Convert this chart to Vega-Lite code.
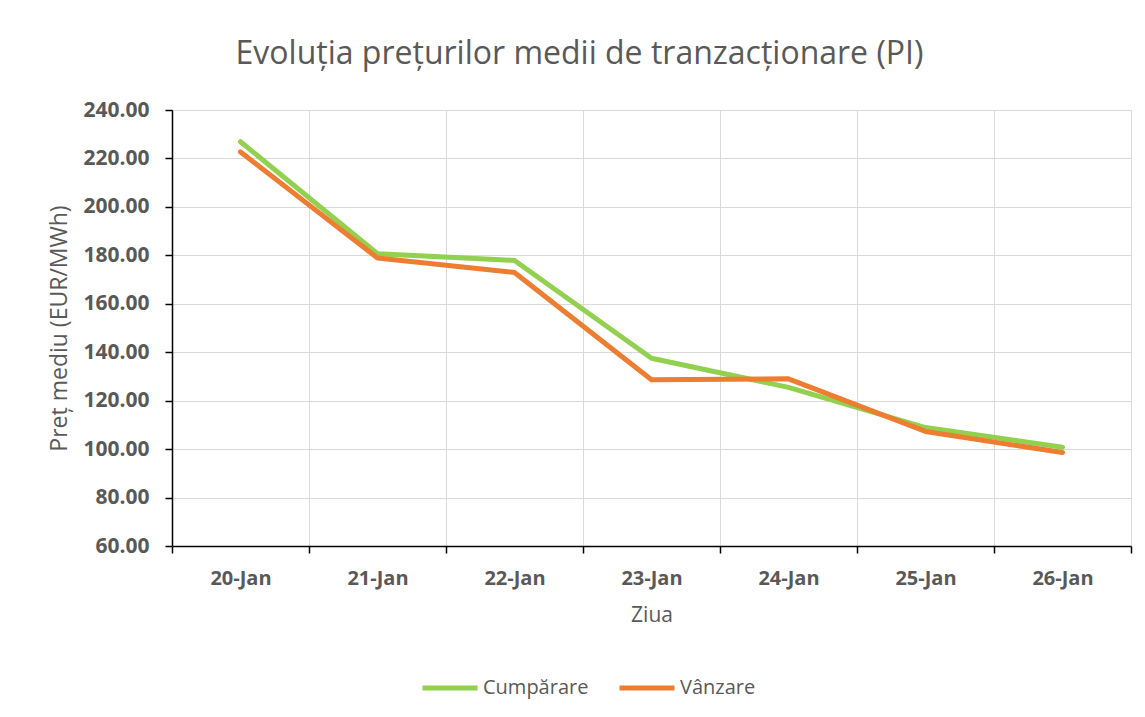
{
  "$schema": "https://vega.github.io/schema/vega-lite/v6.json",
  "autosize": "none",
  "width": 959,
  "height": 436,
  "padding": {"left": 172, "top": 110, "right": 14, "bottom": 171},
  "background": "white",
  "title": {
    "text": "Evoluția prețurilor medii de tranzacționare (PI)",
    "font": "Open Sans",
    "fontSize": 32,
    "fontWeight": "normal",
    "color": "#595959",
    "anchor": "middle",
    "frame": "group",
    "dx": -72,
    "baseline": "alphabetic",
    "offset": 3
  },
  "data": {
    "values": [
      {"day": "20-Jan", "series": "Cumpărare", "price": 226.9},
      {"day": "21-Jan", "series": "Cumpărare", "price": 180.7},
      {"day": "22-Jan", "series": "Cumpărare", "price": 177.9},
      {"day": "23-Jan", "series": "Cumpărare", "price": 137.5},
      {"day": "24-Jan", "series": "Cumpărare", "price": 125.5},
      {"day": "25-Jan", "series": "Cumpărare", "price": 108.9},
      {"day": "26-Jan", "series": "Cumpărare", "price": 100.8},
      {"day": "20-Jan", "series": "Vânzare", "price": 222.7},
      {"day": "21-Jan", "series": "Vânzare", "price": 178.9},
      {"day": "22-Jan", "series": "Vânzare", "price": 172.9},
      {"day": "23-Jan", "series": "Vânzare", "price": 128.6},
      {"day": "24-Jan", "series": "Vânzare", "price": 129.0},
      {"day": "25-Jan", "series": "Vânzare", "price": 107.3},
      {"day": "26-Jan", "series": "Vânzare", "price": 98.6}
    ]
  },
  "mark": {"type": "line", "strokeWidth": 5, "strokeCap": "round", "strokeJoin": "round"},
  "encoding": {
    "x": {
      "field": "day",
      "type": "ordinal",
      "sort": null,
      "scale": {"type": "band", "paddingInner": 0, "paddingOuter": 0},
      "axis": {
        "title": "Ziua",
        "labelAngle": 0,
        "tickBand": "extent",
        "grid": true,
        "gridColor": "#D9D9D9",
        "gridWidth": 1,
        "domainColor": "#000000",
        "domainWidth": 1.5,
        "tickColor": "#000000",
        "tickWidth": 1.5,
        "tickSize": 7,
        "labelPadding": 15,
        "labelFont": "Open Sans",
        "labelFontSize": 20,
        "labelFontWeight": "bold",
        "labelColor": "#595959",
        "titleFont": "Open Sans",
        "titleFontSize": 21,
        "titleFontWeight": "normal",
        "titleColor": "#595959",
        "titlePadding": 16
      }
    },
    "y": {
      "field": "price",
      "type": "quantitative",
      "scale": {"domain": [60, 240], "nice": false, "zero": false},
      "axis": {
        "title": "Preț mediu (EUR/MWh)",
        "values": [60, 80, 100, 120, 140, 160, 180, 200, 220, 240],
        "format": ".2f",
        "grid": true,
        "gridColor": "#D9D9D9",
        "gridWidth": 1,
        "domainColor": "#000000",
        "domainWidth": 1.5,
        "tickColor": "#000000",
        "tickWidth": 1.5,
        "tickSize": 7,
        "labelPadding": 16,
        "labelFont": "Open Sans",
        "labelFontSize": 21,
        "labelFontWeight": "bold",
        "labelColor": "#595959",
        "titleFont": "Open Sans",
        "titleFontSize": 23,
        "titleFontWeight": "normal",
        "titleColor": "#595959",
        "titlePadding": 11
      }
    },
    "color": {
      "field": "series",
      "type": "nominal",
      "scale": {"domain": ["Cumpărare", "Vânzare"], "range": ["#92D050", "#ED7D31"]},
      "legend": {
        "title": null,
        "orient": "none",
        "direction": "horizontal",
        "legendX": 248,
        "legendY": 548,
        "symbolType": "stroke",
        "symbolSize": 3025,
        "symbolStrokeWidth": 5,
        "labelFont": "Open Sans",
        "labelFontSize": 20,
        "labelColor": "#595959",
        "labelOffset": 3,
        "columnPadding": 20
      }
    }
  },
  "config": {
    "view": {"stroke": null}
  }
}
